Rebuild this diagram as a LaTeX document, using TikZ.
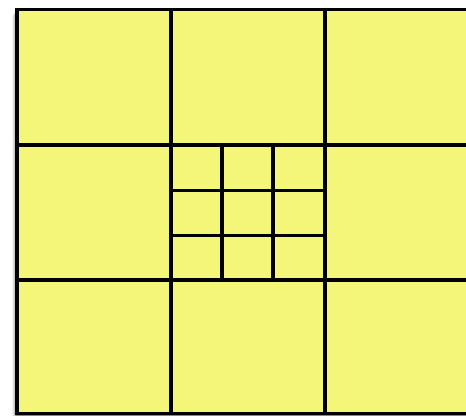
\documentclass[tikz,border=0pt]{standalone}
\definecolor{cellyellow}{RGB}{244,246,122}
\begin{document}
\begin{tikzpicture}[x=1pt,y=-1pt,
  gridline/.style={line width=3.4pt,draw=black}]
\useasboundingbox (0,0) rectangle (466,416);
\clip (0,0) rectangle (466,416);
% soft shadow on left
\foreach \d/\o in {5/0.05,4/0.08,3/0.11,2/0.15,1/0.2}{
  \fill[black,opacity=\o] (17-\d,9.5+\d) rectangle (479,416);
}
\fill[cellyellow] (17,9.5) rectangle (479,414);
% outer grid
\draw[gridline] (17,9.5) rectangle (479,413.5);
\draw[gridline] (171,9.5) -- (171,413.5);
\draw[gridline] (325,9.5) -- (325,413.5);
\draw[gridline] (17,145) -- (479,145);
\draw[gridline] (17,280) -- (479,280);
% inner grid
\draw[gridline] (222,145) -- (222,280);
\draw[gridline] (273,145) -- (273,280);
\draw[gridline] (171,190.5) -- (325,190.5);
\draw[gridline] (171,235.5) -- (325,235.5);
\end{tikzpicture}
\end{document}
